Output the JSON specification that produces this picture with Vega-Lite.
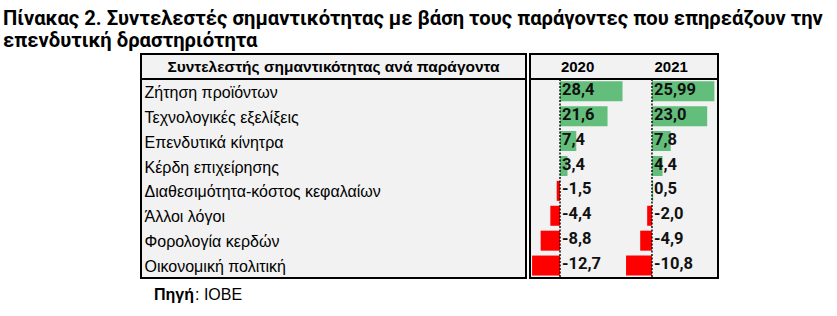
{
  "$schema": "https://vega.github.io/schema/vega-lite/v6.json",
  "padding": {"left": 3, "top": 8, "right": 5, "bottom": 5},
  "background": "white",
  "title": {
    "text": ["Πίνακας 2. Συντελεστές σημαντικότητας με βάση τους παράγοντες που επηρεάζουν την", "επενδυτική δραστηριότητα"],
    "anchor": "start",
    "dx": -136,
    "font": "Roboto",
    "fontSize": 20.2,
    "fontWeight": "bold",
    "color": "black",
    "lineHeight": 22,
    "offset": 2
  },
  "datasets": {
    "rows": [
      {"factor": "Ζήτηση προϊόντων", "v2020": 28.4, "l2020": "28,4", "v2021": 25.99, "l2021": "25,99"},
      {"factor": "Τεχνολογικές εξελίξεις", "v2020": 21.6, "l2020": "21,6", "v2021": 23.0, "l2021": "23,0"},
      {"factor": "Επενδυτικά κίνητρα", "v2020": 7.4, "l2020": "7,4", "v2021": 7.8, "l2021": "7,8"},
      {"factor": "Κέρδη επιχείρησης", "v2020": 3.4, "l2020": "3,4", "v2021": 4.4, "l2021": "4,4"},
      {"factor": "Διαθεσιμότητα-κόστος κεφαλαίων", "v2020": -1.5, "l2020": "-1,5", "v2021": 0.5, "l2021": "0,5"},
      {"factor": "Άλλοι λόγοι", "v2020": -4.4, "l2020": "-4,4", "v2021": -2.0, "l2021": "-2,0"},
      {"factor": "Φορολογία κερδών", "v2020": -8.8, "l2020": "-8,8", "v2021": -4.9, "l2021": "-4,9"},
      {"factor": "Οικονομική πολιτική", "v2020": -12.7, "l2020": "-12,7", "v2021": -10.8, "l2021": "-10,8"}
    ],
    "header": [
      {"title": "Συντελεστής σημαντικότητας ανά παράγοντα", "c2020": "2020", "c2021": "2021", "first": "Ζήτηση προϊόντων"}
    ],
    "source": [
      {"label": "Πηγή", "source": ": ΙΟΒΕ"}
    ]
  },
  "vconcat": [
    {
      "hconcat": [
        {
          "width": 385,
          "height": 224,
          "layer": [
            {
              "data": {"name": "header"},
              "mark": {"type": "text", "font": "Liberation Sans", "fontSize": 15.5, "fontWeight": "bold", "color": "black", "baseline": "middle", "dy": 1},
              "encoding": {
                "y": {
                  "field": "title", "type": "nominal",
                  "scale": {"domain": ["Συντελεστής σημαντικότητας ανά παράγοντα", "Ζήτηση προϊόντων", "Τεχνολογικές εξελίξεις", "Επενδυτικά κίνητρα", "Κέρδη επιχείρησης", "Διαθεσιμότητα-κόστος κεφαλαίων", "Άλλοι λόγοι", "Φορολογία κερδών", "Οικονομική πολιτική"], "paddingInner": 0, "paddingOuter": 0},
                  "axis": {
                    "orient": "right", "offset": -382,
                    "values": ["Ζήτηση προϊόντων", "Τεχνολογικές εξελίξεις", "Επενδυτικά κίνητρα", "Κέρδη επιχείρησης", "Διαθεσιμότητα-κόστος κεφαλαίων", "Άλλοι λόγοι", "Φορολογία κερδών", "Οικονομική πολιτική"],
                    "ticks": false, "domain": false, "grid": false, "title": null,
                    "labelFont": "Liberation Sans", "labelFontSize": 16, "labelColor": "black",
                    "labelLimit": 0, "labelPadding": 0, "labelAlign": "left", "labelBaseline": "middle", "labelOffset": 1.5
                  }
                },
                "text": {"field": "title"}
              }
            },
            {
              "data": {"name": "header"},
              "mark": {"type": "rule", "strokeWidth": 2, "color": "black"},
              "encoding": {
                "y": {"field": "first", "type": "nominal", "bandPosition": 0}
              }
            }
          ]
        },
        {
          "width": 188,
          "height": 224,
          "data": {"name": "rows"},
          "layer": [
            {
              "data": {"name": "header"},
              "mark": {"type": "rule", "strokeWidth": 2, "color": "black"},
              "encoding": {
                "y": {
                  "field": "first", "type": "nominal", "bandPosition": 0,
                  "scale": {"domain": ["Συντελεστής σημαντικότητας ανά παράγοντα", "Ζήτηση προϊόντων", "Τεχνολογικές εξελίξεις", "Επενδυτικά κίνητρα", "Κέρδη επιχείρησης", "Διαθεσιμότητα-κόστος κεφαλαίων", "Άλλοι λόγοι", "Φορολογία κερδών", "Οικονομική πολιτική"], "paddingInner": 0, "paddingOuter": 0},
                  "axis": null
                }
              }
            },
            {
              "mark": {"type": "bar", "size": 20},
              "encoding": {
                "y": {"field": "factor", "type": "nominal"},
                "x": {"field": "v2020", "type": "quantitative", "scale": {"domain": [-13.64, 71.8], "nice": false}, "axis": null},
                "color": {"condition": {"test": "datum.v2020 < 0", "value": "#ff0000"}, "value": "#63be7b"}
              }
            },
            {
              "data": {"name": "header"},
              "mark": {"type": "rule", "strokeDash": [2, 1.5], "strokeWidth": 1.4, "color": "black"},
              "encoding": {
                "x": {"datum": 0, "type": "quantitative", "scale": {"domain": [-13.64, 71.8], "nice": false}, "axis": null},
                "y": {"field": "first", "type": "nominal", "bandPosition": 0},
                "y2": {"value": "height"}
              }
            },
            {
              "mark": {"type": "text", "align": "left", "baseline": "middle", "dx": 2, "dy": -1.5, "font": "Roboto", "fontSize": 16.5, "fontWeight": "bold", "color": "#111111"},
              "encoding": {
                "y": {"field": "factor", "type": "nominal"},
                "x": {"datum": 0, "type": "quantitative", "scale": {"domain": [-13.64, 71.8], "nice": false}, "axis": null},
                "text": {"field": "l2020"}
              }
            },
            {
              "data": {"name": "header"},
              "mark": {"type": "text", "align": "center", "baseline": "middle", "dy": 1, "font": "Liberation Sans", "fontSize": 15, "fontWeight": "bold", "color": "black"},
              "encoding": {
                "y": {"field": "title", "type": "nominal"},
                "x": {"datum": 8, "type": "quantitative", "scale": {"domain": [-13.64, 71.8], "nice": false}, "axis": null},
                "text": {"field": "c2020"}
              }
            },
            {
              "mark": {"type": "bar", "size": 20},
              "encoding": {
                "y": {"field": "factor", "type": "nominal"},
                "x": {"field": "v2021", "type": "quantitative", "scale": {"domain": [-50.8, 27.5], "nice": false}, "axis": null},
                "color": {"condition": {"test": "datum.v2021 < 0", "value": "#ff0000"}, "value": "#63be7b"}
              }
            },
            {
              "data": {"name": "header"},
              "mark": {"type": "rule", "strokeDash": [2, 1.5], "strokeWidth": 1.4, "color": "black"},
              "encoding": {
                "x": {"datum": 0, "type": "quantitative", "scale": {"domain": [-50.8, 27.5], "nice": false}, "axis": null},
                "y": {"field": "first", "type": "nominal", "bandPosition": 0},
                "y2": {"value": "height"}
              }
            },
            {
              "mark": {"type": "text", "align": "left", "baseline": "middle", "dx": 2, "dy": -1.5, "font": "Roboto", "fontSize": 16.5, "fontWeight": "bold", "color": "#111111"},
              "encoding": {
                "y": {"field": "factor", "type": "nominal"},
                "x": {"datum": 0, "type": "quantitative", "scale": {"domain": [-50.8, 27.5], "nice": false}, "axis": null},
                "text": {"field": "l2021"}
              }
            },
            {
              "data": {"name": "header"},
              "mark": {"type": "text", "align": "center", "baseline": "middle", "dy": 1, "font": "Liberation Sans", "fontSize": 15, "fontWeight": "bold", "color": "black"},
              "encoding": {
                "y": {"field": "title", "type": "nominal"},
                "x": {"datum": 8, "type": "quantitative", "scale": {"domain": [-50.8, 27.5], "nice": false}, "axis": null},
                "text": {"field": "c2021"}
              }
            }
          ],
          "resolve": {"scale": {"x": "independent"}}
        }
      ],
      "spacing": 0
    },
    {
      "width": 26,
      "height": 26,
      "view": {"stroke": null, "fill": null},
      "data": {"name": "source"},
      "layer": [
        {
          "mark": {"type": "text", "align": "left", "baseline": "alphabetic", "dy": 6.5, "font": "Liberation Sans", "fontSize": 16, "fontWeight": "bold", "color": "black"},
          "encoding": {"text": {"field": "label"}}
        },
        {
          "mark": {"type": "text", "align": "left", "baseline": "alphabetic", "dy": 6.5, "dx": 41, "font": "Liberation Sans", "fontSize": 16, "color": "black"},
          "encoding": {"text": {"field": "source"}}
        }
      ]
    }
  ],
  "spacing": 0,
  "config": {
    "view": {"stroke": "black", "strokeWidth": 2, "fill": "#f2f2f2"}
  }
}
